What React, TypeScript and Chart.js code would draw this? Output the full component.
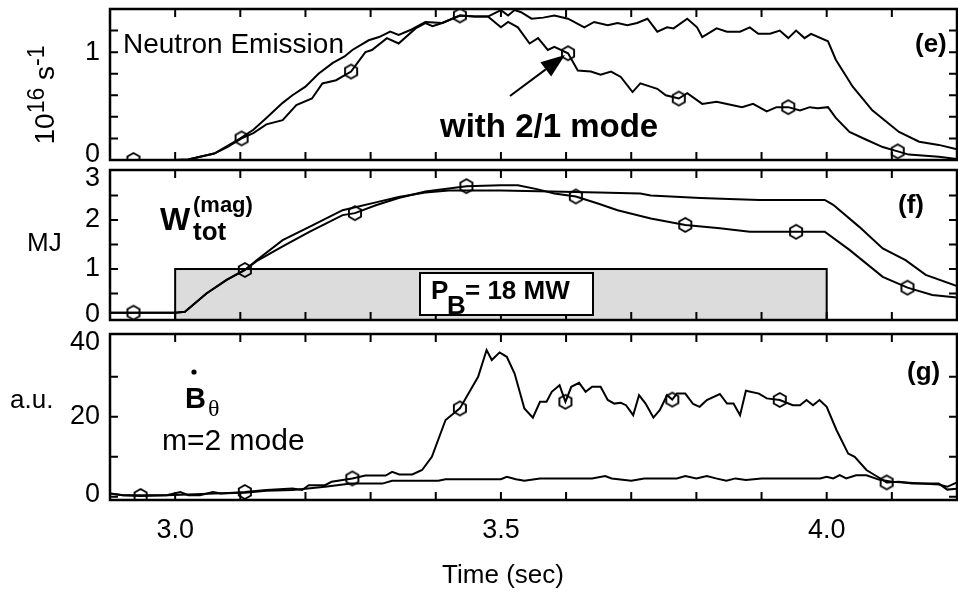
import React, { useEffect, useRef } from 'react';
import { Chart, registerables } from 'chart.js';

Chart.register(...registerables);

const FONT = '"Liberation Sans", Arial, Helvetica, sans-serif';
const SERIF = '"Liberation Serif", "DejaVu Serif", serif';

// ---------- shared time axis ----------
const timeMin = 2.9;
const timeMax = 4.2;

// ---------- panel (e): neutron emission, 10^16 s^-1 ----------
const tNeutronRef = [2.9, 3.0, 3.02, 3.06, 3.1, 3.12, 3.14, 3.165, 3.18, 3.2, 3.22, 3.242, 3.26, 3.272, 3.297, 3.313, 3.33, 3.343, 3.363, 3.384, 3.41, 3.437, 3.46, 3.48, 3.5, 3.511, 3.521, 3.531, 3.547, 3.565, 3.582, 3.603, 3.628, 3.643, 3.664, 3.679, 3.694, 3.709, 3.725, 3.74, 3.755, 3.765, 3.786, 3.801, 3.809, 3.831, 3.847, 3.867, 3.882, 3.895, 3.913, 3.928, 3.941, 3.953, 3.966, 3.976, 4.002, 4.014, 4.04, 4.07, 4.111, 4.142, 4.172, 4.2];
const neutronRef = [0, 0, 0.005, 0.06, 0.2, 0.28, 0.39, 0.53, 0.6, 0.68, 0.8, 0.9, 0.96, 1.02, 1.11, 1.14, 1.19, 1.16, 1.21, 1.28, 1.27, 1.34, 1.33, 1.33, 1.39, 1.34, 1.39, 1.37, 1.31, 1.32, 1.34, 1.31, 1.23, 1.28, 1.25, 1.27, 1.25, 1.27, 1.31, 1.19, 1.23, 1.22, 1.31, 1.23, 1.14, 1.22, 1.19, 1.19, 1.23, 1.17, 1.17, 1.2, 1.13, 1.2, 1.13, 1.17, 1.1, 0.93, 0.68, 0.46, 0.26, 0.17, 0.14, 0.1];

const tNeutronMode = [2.9, 3.0, 3.02, 3.06, 3.08, 3.102, 3.12, 3.14, 3.165, 3.186, 3.21, 3.226, 3.247, 3.27, 3.292, 3.302, 3.325, 3.343, 3.369, 3.384, 3.395, 3.41, 3.437, 3.46, 3.48, 3.5, 3.511, 3.526, 3.544, 3.557, 3.572, 3.582, 3.603, 3.618, 3.638, 3.653, 3.669, 3.684, 3.702, 3.714, 3.74, 3.753, 3.773, 3.786, 3.809, 3.831, 3.847, 3.87, 3.887, 3.908, 3.923, 3.941, 3.959, 3.974, 3.986, 4.002, 4.014, 4.035, 4.06, 4.086, 4.109, 4.126, 4.172, 4.2];
const neutronMode = [0, 0, 0.005, 0.06, 0.12, 0.2, 0.25, 0.33, 0.37, 0.51, 0.57, 0.71, 0.74, 0.82, 1.0, 1.02, 1.13, 1.08, 1.22, 1.27, 1.24, 1.27, 1.34, 1.33, 1.33, 1.23, 1.28, 1.23, 1.08, 1.13, 1.02, 1.05, 0.99, 0.83, 0.82, 0.79, 0.82, 0.77, 0.63, 0.71, 0.66, 0.6, 0.57, 0.62, 0.52, 0.54, 0.52, 0.49, 0.52, 0.45, 0.49, 0.49, 0.46, 0.49, 0.48, 0.49, 0.39, 0.26, 0.19, 0.12, 0.08, 0.05, 0.03, 0.01];

const tNeutronMarks = [2.936, 3.102, 3.27, 3.437, 3.603, 3.773, 3.941, 4.109];
const neutronMarks = [0, 0.2, 0.82, 1.34, 0.99, 0.57, 0.49, 0.08];

const neutronMin = 0;
const neutronMax = 1.4;
const neutronTicks = [0, 0.2, 0.4, 0.6, 0.8, 1.0, 1.2];
const neutronLabelEvery = 1;

// ---------- panel (f): stored magnetic energy, MJ ----------
const tEnergyRef = [2.9, 3.0, 3.015, 3.048, 3.079, 3.107, 3.125, 3.165, 3.206, 3.257, 3.308, 3.343, 3.384, 3.42, 3.5, 3.577, 3.65, 3.714, 3.73, 3.806, 3.85, 3.897, 3.997, 4.01, 4.05, 4.086, 4.121, 4.152, 4.2];
const energyRef = [0.11, 0.11, 0.13, 0.5, 0.78, 0.98, 1.18, 1.59, 1.86, 2.2, 2.36, 2.47, 2.56, 2.6, 2.6, 2.58, 2.56, 2.54, 2.5, 2.45, 2.43, 2.41, 2.41, 2.31, 1.86, 1.42, 1.18, 0.88, 0.65];

const tEnergyMode = [2.9, 3.0, 3.015, 3.048, 3.079, 3.107, 3.125, 3.165, 3.206, 3.257, 3.276, 3.308, 3.343, 3.384, 3.447, 3.5, 3.526, 3.555, 3.582, 3.615, 3.65, 3.679, 3.73, 3.783, 3.836, 3.882, 3.953, 3.997, 4.035, 4.086, 4.124, 4.162, 4.2];
const energyMode = [0.11, 0.11, 0.13, 0.5, 0.78, 0.98, 1.16, 1.46, 1.76, 2.1, 2.14, 2.3, 2.45, 2.58, 2.69, 2.71, 2.71, 2.63, 2.54, 2.48, 2.33, 2.2, 2.03, 1.9, 1.83, 1.76, 1.76, 1.76, 1.39, 0.84, 0.62, 0.47, 0.42];

const tEnergyMarks = [2.936, 3.107, 3.276, 3.447, 3.615, 3.783, 3.953, 4.124];
const energyMarks = [0.11, 0.98, 2.14, 2.69, 2.48, 1.9, 1.76, 0.62];

const energyMin = -0.04;
const energyMax = 3.02;
const energyTicks = [0, 0.5, 1, 1.5, 2, 2.5, 3];
const energyLabelEvery = 1;

// neutral beam window (P_B = 18 MW)
const beamOn = 3.0;
const beamOff = 4.0;
const beamLevel = 1;

// ---------- panel (g): m=2 mode amplitude, a.u. ----------
const tModeBig = [2.9, 2.92, 2.947, 2.987, 3.008, 3.02, 3.038, 3.058, 3.07, 3.107, 3.14, 3.18, 3.195, 3.205, 3.23, 3.24, 3.272, 3.292, 3.323, 3.333, 3.344, 3.364, 3.379, 3.394, 3.415, 3.437, 3.465, 3.478, 3.486, 3.498, 3.509, 3.521, 3.536, 3.549, 3.56, 3.57, 3.578, 3.59, 3.599, 3.608, 3.62, 3.63, 3.64, 3.653, 3.664, 3.674, 3.684, 3.692, 3.703, 3.712, 3.722, 3.734, 3.744, 3.755, 3.763, 3.77, 3.783, 3.795, 3.805, 3.816, 3.836, 3.847, 3.857, 3.867, 3.876, 3.896, 3.908, 3.928, 3.948, 3.959, 3.969, 3.979, 3.989, 4.0, 4.015, 4.033, 4.043, 4.061, 4.076, 4.092, 4.111, 4.131, 4.172, 4.185, 4.2];
const modeBig = [0.8, 0.4, 0.2, 0.4, 1.2, 0.4, 0.4, 1.2, 0.8, 1.2, 1.7, 2.1, 1.7, 2.9, 2.9, 3.75, 4.6, 5.3, 5.3, 6.25, 5.6, 5.6, 6.7, 10, 19.2, 22.1, 30, 36.7, 34.2, 36.1, 35, 30.8, 22.1, 19.8, 23.75, 23.75, 26.25, 27.9, 23.75, 27.5, 28.5, 26.25, 27.5, 27.5, 24.2, 23.3, 23.5, 22.9, 20.4, 25.4, 23.3, 19.8, 21.7, 25.4, 24.3, 25.8, 25.8, 23.2, 22.5, 24.2, 25.7, 23.3, 23.3, 20.4, 26.5, 25.8, 24.6, 24.2, 22.9, 22.9, 24.2, 22.9, 24.2, 22.5, 16.7, 10.8, 10, 6.7, 5.2, 3.6, 3.75, 3.3, 3.3, 1.8, 2.0];

const tModeSmall = [2.9, 2.92, 2.947, 2.987, 3.02, 3.06, 3.107, 3.14, 3.18, 3.2, 3.23, 3.27, 3.318, 3.333, 3.404, 3.415, 3.5, 3.509, 3.523, 3.536, 3.56, 3.64, 3.66, 3.67, 3.7, 3.72, 3.77, 3.783, 3.8, 3.816, 3.83, 3.846, 3.86, 3.876, 3.9, 3.99, 4.0, 4.01, 4.02, 4.03, 4.045, 4.061, 4.08, 4.1, 4.172, 4.185, 4.2];
const modeSmall = [0.8, 0.4, 0.4, 0.4, 0.6, 0.8, 1.0, 1.5, 1.7, 2.0, 2.5, 3.3, 3.3, 4.0, 4.0, 4.4, 4.4, 5.0, 4.4, 4.0, 4.6, 4.6, 5.2, 4.6, 4.0, 4.6, 4.6, 5.2, 4.6, 5.2, 4.6, 4.0, 4.6, 4.2, 4.6, 4.6, 5.0, 4.6, 5.4, 4.6, 5.4, 5.4, 4.3, 3.75, 3.1, 2.5, 3.6];

const tModeMarks = [2.947, 3.107, 3.272, 3.437, 3.599, 3.763, 3.928, 4.092];
const modeMarks = [0.2, 1.2, 4.6, 22.1, 23.75, 24.3, 24.2, 3.6];

const modeMin = -0.8;
const modeMax = 40.7;
const modeTicks = [0, 10, 20, 30, 40];
const modeLabelEvery = 20;

// time ticks every 0.1 s, labelled every 0.5 s
const timeTicks = [3.0, 3.1, 3.2, 3.3, 3.4, 3.5, 3.6, 3.7, 3.8, 3.9, 4.0, 4.1];
const timeLabelEvery = 0.5;

// ---------- helpers ----------
function makeMarker(): HTMLCanvasElement {
  const c = document.createElement('canvas');
  c.width = 18;
  c.height = 18;
  const g = c.getContext('2d')!;
  g.strokeStyle = '#000';
  g.lineWidth = 1.9;
  g.beginPath();
  for (let i = 0; i < 6; i++) {
    const a = Math.PI / 2 + (i * Math.PI) / 3;
    const x = 9 + 7 * Math.cos(a);
    const y = 9 + 7 * Math.sin(a);
    if (i === 0) g.moveTo(x, y);
    else g.lineTo(x, y);
  }
  g.closePath();
  g.stroke();
  return c;
}

const lineDs = (t: number[], v: number[]) => ({
  data: t.map((x, i) => ({ x, y: v[i] })),
  borderColor: '#000',
  borderWidth: 2,
  pointRadius: 0,
  tension: 0,
  fill: false,
});

const markDs = (t: number[], v: number[], img: HTMLCanvasElement) => ({
  data: t.map((x, i) => ({ x, y: v[i] })),
  showLine: false,
  pointStyle: img,
  pointRadius: 8,
  borderColor: '#000',
  backgroundColor: 'rgba(0,0,0,0)',
});

function text(
  ctx: CanvasRenderingContext2D,
  s: string,
  x: number,
  y: number,
  font: string,
  align: CanvasTextAlign = 'left',
  baseline: CanvasTextBaseline = 'alphabetic'
) {
  ctx.font = font;
  ctx.textAlign = align;
  ctx.textBaseline = baseline;
  ctx.fillStyle = '#000';
  ctx.fillText(s, x, y);
}

const isMultiple = (v: number, s: number) => Math.abs(v / s - Math.round(v / s)) < 1e-6;

// frame, inward ticks on all four sides, y tick labels kept inside the panel height
const frameTicks = {
  id: 'frameTicks',
  afterDatasetsDraw(chart: any, _args: any, opts: any) {
    const { ctx, chartArea: a, scales } = chart;
    const xs = scales.x;
    const ys = scales.y;
    const L = 8;
    ctx.save();
    ctx.strokeStyle = '#000';
    ctx.lineWidth = 2;
    ctx.beginPath();
    xs.ticks.forEach((t: any) => {
      const p = xs.getPixelForValue(t.value);
      if (p < a.left + 3 || p > a.right - 3) return;
      ctx.moveTo(p, a.top);
      ctx.lineTo(p, a.top + L);
      ctx.moveTo(p, a.bottom);
      ctx.lineTo(p, a.bottom - L);
    });
    ys.ticks.forEach((t: any) => {
      const p = ys.getPixelForValue(t.value);
      if (p < a.top + 3 || p > a.bottom - 3) return;
      ctx.moveTo(a.left, p);
      ctx.lineTo(a.left + L, p);
      ctx.moveTo(a.right, p);
      ctx.lineTo(a.right - L, p);
    });
    ctx.stroke();
    ctx.lineWidth = 2.5;
    ctx.strokeRect(a.left, a.top, a.right - a.left, a.bottom - a.top);
    ys.ticks.forEach((t: any) => {
      if (!isMultiple(t.value, opts.labelEvery)) return;
      const p = Math.min(Math.max(ys.getPixelForValue(t.value), a.top + 9), a.bottom - 5);
      text(ctx, String(Math.round(t.value)), a.left - 10, p, `27px ${FONT}`, 'right', 'middle');
    });
    ctx.restore();
  },
};

function baseConfig(p: {
  datasets: any[];
  yMin: number;
  yMax: number;
  yTicks: number[];
  yLabelEvery: number;
  padTop: number;
  padBottom: number;
  showX: boolean;
  plugins: any[];
}): any {
  return {
    type: 'line',
    data: { datasets: p.datasets },
    plugins: [frameTicks, ...p.plugins],
    options: {
      animation: false,
      responsive: false,
      devicePixelRatio: 1,
      layout: { padding: { top: p.padTop, bottom: p.padBottom, left: 0, right: 5 } },
      plugins: {
        legend: { display: false },
        tooltip: { enabled: false },
        frameTicks: { labelEvery: p.yLabelEvery },
      },
      scales: {
        x: {
          type: 'linear',
          display: p.showX,
          min: timeMin,
          max: timeMax,
          grid: { display: false, drawTicks: false },
          border: { display: false },
          afterBuildTicks: (s: any) => {
            s.ticks = timeTicks.map((v) => ({ value: v }));
          },
          afterFit: (s: any) => {
            s.paddingLeft = 0;
            s.paddingRight = 0;
            s.height = p.showX ? 92 : 0;
          },
          ticks: {
            autoSkip: false,
            maxRotation: 0,
            padding: 14,
            color: '#000',
            font: { family: FONT, size: 27 },
            callback: (v: any) => (isMultiple(Number(v), timeLabelEvery) ? Number(v).toFixed(1) : ''),
          },
        },
        y: {
          type: 'linear',
          min: p.yMin,
          max: p.yMax,
          grid: { display: false, drawTicks: false },
          border: { display: false },
          afterBuildTicks: (s: any) => {
            s.ticks = p.yTicks.map((v) => ({ value: v }));
          },
          afterFit: (s: any) => {
            s.width = 110;
            s.paddingTop = 0;
            s.paddingBottom = 0;
          },
          ticks: { display: false },
        },
      },
    },
  };
}

const annotE = {
  id: 'annotE',
  afterDraw(chart: any) {
    const ctx: CanvasRenderingContext2D = chart.ctx;
    ctx.save();
    text(ctx, 'Neutron Emission', 123, 53, `28px ${FONT}`);
    text(ctx, '(e)', 915, 52, `bold 26px ${FONT}`);
    text(ctx, 'with 2/1 mode', 440, 137, `bold 33px ${FONT}`);
    // arrow
    const x0 = 510, y0 = 96, x1 = 565, y1 = 55;
    const ang = Math.atan2(y1 - y0, x1 - x0);
    const hl = 24, hw = 9;
    const bx = x1 - hl * Math.cos(ang), by = y1 - hl * Math.sin(ang);
    ctx.strokeStyle = '#000';
    ctx.lineWidth = 2;
    ctx.beginPath();
    ctx.moveTo(x0, y0);
    ctx.lineTo(bx, by);
    ctx.stroke();
    ctx.beginPath();
    ctx.moveTo(x1, y1);
    ctx.lineTo(bx + hw * Math.sin(ang), by - hw * Math.cos(ang));
    ctx.lineTo(bx - hw * Math.sin(ang), by + hw * Math.cos(ang));
    ctx.closePath();
    ctx.fillStyle = '#000';
    ctx.fill();
    // rotated y title: 10^16 s^-1
    ctx.translate(54, 95);
    ctx.rotate(-Math.PI / 2);
    const big = `28px ${FONT}`, sup = `23px ${FONT}`;
    const parts: [string, string, number][] = [
      ['10', big, 0],
      ['16', sup, -10],
      [' s', big, 0],
      ['-1', sup, -10],
    ];
    let total = 0;
    parts.forEach(([s, f]) => {
      ctx.font = f;
      total += ctx.measureText(s).width;
    });
    let x = -total / 2;
    parts.forEach(([s, f, dy]) => {
      text(ctx, s, x, dy, f);
      ctx.font = f;
      x += ctx.measureText(s).width;
    });
    ctx.restore();
  },
};

const beamBox = {
  id: 'beamBox',
  beforeDatasetsDraw(chart: any) {
    const { ctx, chartArea: a, scales } = chart;
    const x0 = scales.x.getPixelForValue(beamOn);
    const x1 = scales.x.getPixelForValue(beamOff);
    const y0 = scales.y.getPixelForValue(beamLevel);
    ctx.save();
    ctx.fillStyle = '#dcdcdc';
    ctx.fillRect(x0, y0, x1 - x0, a.bottom - y0);
    ctx.strokeStyle = '#000';
    ctx.lineWidth = 2;
    ctx.strokeRect(x0, y0, x1 - x0, a.bottom - y0);
    ctx.restore();
  },
};

const annotF = {
  id: 'annotF',
  afterDraw(chart: any) {
    const ctx: CanvasRenderingContext2D = chart.ctx;
    ctx.save();
    text(ctx, 'W', 160, 230, `bold 32px ${FONT}`);
    text(ctx, '(mag)', 193, 212, `bold 22px ${FONT}`);
    text(ctx, 'tot', 193, 240, `bold 26px ${FONT}`);
    text(ctx, '(f)', 898, 213, `bold 26px ${FONT}`);
    text(ctx, 'MJ', 27, 251, `26px ${FONT}`);
    // P_B label box
    ctx.fillStyle = '#fff';
    ctx.fillRect(420, 273, 173, 42);
    ctx.strokeStyle = '#000';
    ctx.lineWidth = 2;
    ctx.strokeRect(420, 273, 173, 42);
    text(ctx, 'P', 431, 299, `bold 26px ${FONT}`);
    text(ctx, 'B', 447, 314, `bold 26px ${FONT}`);
    text(ctx, '= 18 MW', 465, 299, `bold 26px ${FONT}`);
    ctx.restore();
  },
};

const annotG = {
  id: 'annotG',
  afterDraw(chart: any) {
    const ctx: CanvasRenderingContext2D = chart.ctx;
    ctx.save();
    ctx.fillStyle = '#000';
    ctx.beginPath();
    ctx.arc(194, 372, 2.6, 0, Math.PI * 2);
    ctx.fill();
    text(ctx, 'B', 185, 408, `bold 29px ${FONT}`);
    text(ctx, 'θ', 208, 416, `24px ${SERIF}`);
    text(ctx, 'm=2 mode', 162, 450, `30px ${FONT}`);
    text(ctx, '(g)', 907, 380, `bold 26px ${FONT}`);
    text(ctx, 'a.u.', 10, 408, `26px ${FONT}`);
    text(ctx, 'Time (sec)', 503, 583, `26px ${FONT}`, 'center');
    ctx.restore();
  },
};

export default function App() {
  const eRef = useRef<HTMLCanvasElement>(null);
  const fRef = useRef<HTMLCanvasElement>(null);
  const gRef = useRef<HTMLCanvasElement>(null);

  useEffect(() => {
    const marker = makeMarker();
    const charts: Chart[] = [];
    charts.push(
      new Chart(
        eRef.current!,
        baseConfig({
          datasets: [
            lineDs(tNeutronRef, neutronRef),
            lineDs(tNeutronMode, neutronMode),
            markDs(tNeutronMarks, neutronMarks, marker),
          ],
          yMin: neutronMin,
          yMax: neutronMax,
          yTicks: neutronTicks,
          yLabelEvery: neutronLabelEvery,
          padTop: 9,
          padBottom: 592 - 160,
          showX: false,
          plugins: [annotE],
        })
      )
    );
    charts.push(
      new Chart(
        fRef.current!,
        baseConfig({
          datasets: [
            lineDs(tEnergyRef, energyRef),
            lineDs(tEnergyMode, energyMode),
            markDs(tEnergyMarks, energyMarks, marker),
          ],
          yMin: energyMin,
          yMax: energyMax,
          yTicks: energyTicks,
          yLabelEvery: energyLabelEvery,
          padTop: 170,
          padBottom: 592 - 320,
          showX: false,
          plugins: [beamBox, annotF],
        })
      )
    );
    charts.push(
      new Chart(
        gRef.current!,
        baseConfig({
          datasets: [
            lineDs(tModeSmall, modeSmall),
            lineDs(tModeBig, modeBig),
            markDs(tModeMarks, modeMarks, marker),
          ],
          yMin: modeMin,
          yMax: modeMax,
          yTicks: modeTicks,
          yLabelEvery: modeLabelEvery,
          padTop: 334,
          padBottom: 0,
          showX: true,
          plugins: [annotG],
        })
      )
    );
    return () => charts.forEach((c) => c.destroy());
  }, []);

  const cs: React.CSSProperties = { position: 'absolute', left: 0, top: 0, width: 966, height: 592 };
  return (
    <div style={{ position: 'absolute', left: 0, top: 0, width: 958, height: 592, overflow: 'hidden', background: '#fff' }}>
      <canvas ref={eRef} width={966} height={592} style={cs} />
      <canvas ref={fRef} width={966} height={592} style={cs} />
      <canvas ref={gRef} width={966} height={592} style={cs} />
    </div>
  );
}
